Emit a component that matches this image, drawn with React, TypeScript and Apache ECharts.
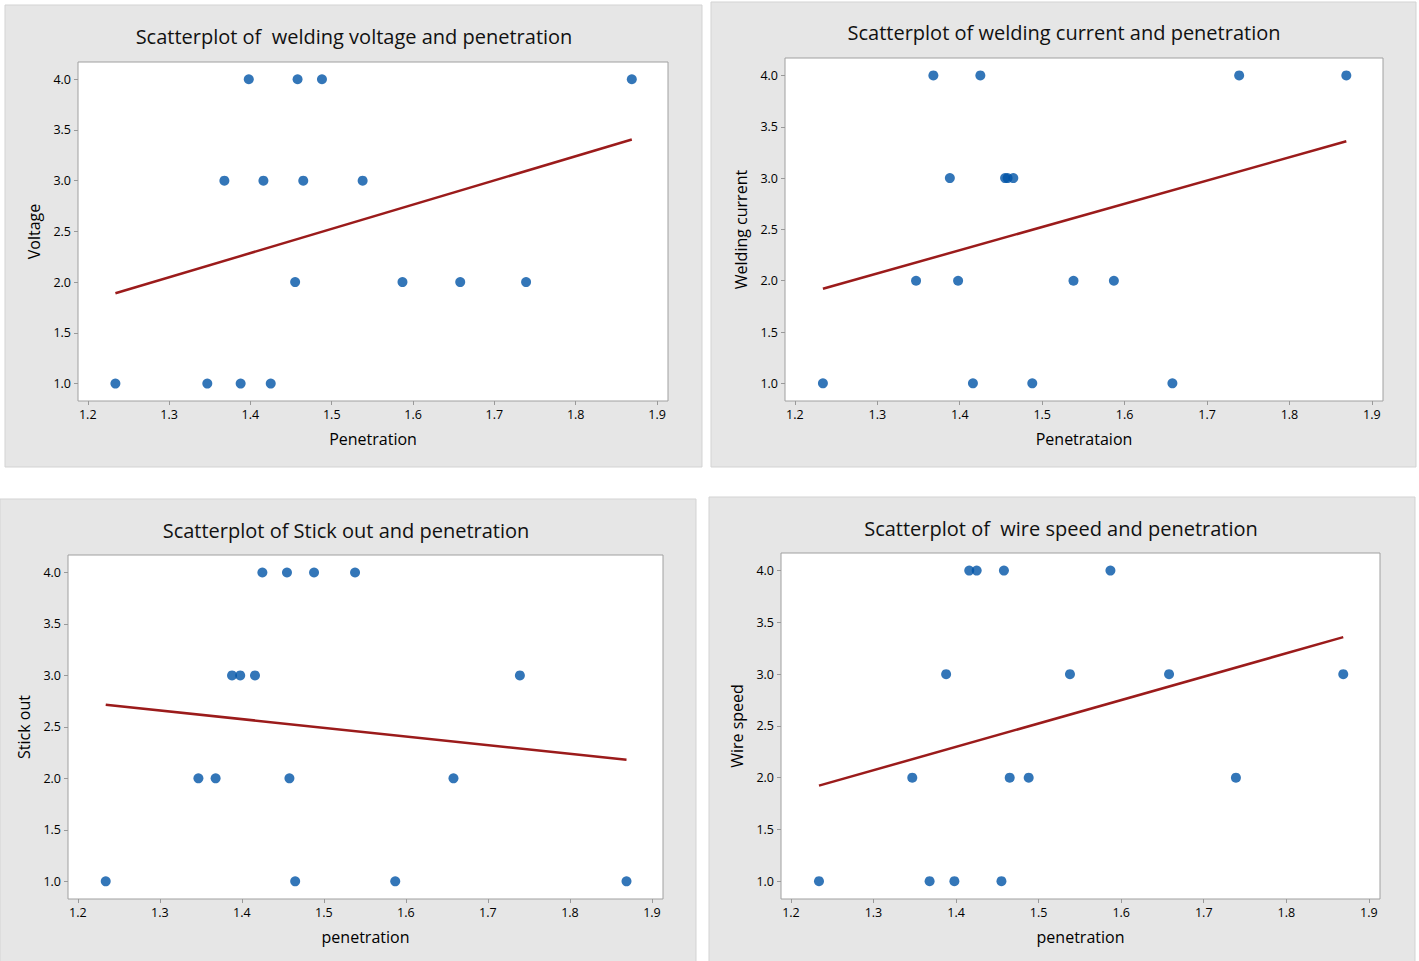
import React, { useEffect, useRef } from "react";
import * as echarts from "echarts";

// Penetration values (shared x for all four panels)
const penetration = [1.234, 1.347, 1.368, 1.388, 1.398, 1.416, 1.425, 1.455, 1.458, 1.465, 1.488, 1.538, 1.587, 1.658, 1.739, 1.869];
// Response values, same order as penetration
const voltage = [1, 1, 3, 1, 4, 3, 1, 2, 4, 3, 4, 3, 2, 2, 2, 4];
const weldingCurrent = [1, 2, 4, 3, 2, 1, 4, 3, 3, 3, 1, 2, 2, 1, 4, 4];
const stickOut = [1, 2, 2, 3, 3, 3, 4, 4, 2, 1, 4, 4, 1, 2, 3, 1];
const wireSpeed = [1, 2, 1, 3, 1, 4, 4, 1, 4, 2, 2, 3, 4, 3, 2, 3];

const xTicks = [1.2, 1.3, 1.4, 1.5, 1.6, 1.7, 1.8, 1.9];
const yTicks = [1.0, 1.5, 2.0, 2.5, 3.0, 3.5, 4.0];

const titles = [
  "Scatterplot of  welding voltage and penetration",
  "Scatterplot of welding current and penetration",
  "Scatterplot of Stick out and penetration",
  "Scatterplot of  wire speed and penetration",
];
const yNames = ["Voltage", "Welding current", "Stick out", "Wire speed"];
const xNames = ["Penetration", "Penetrataion", "penetration", "penetration"];
const responses = [voltage, weldingCurrent, stickOut, wireSpeed];

// layout (pixels)
const panels = [
  { x: 5, y: 5, w: 697, h: 462, grid: { left: 78, top: 62, width: 590, height: 339 }, titleX: 354, titleY: 36 },
  { x: 711, y: 2, w: 705, h: 465, grid: { left: 785, top: 58, width: 598, height: 343 }, titleX: 1064, titleY: 32 },
  { x: 0, y: 499, w: 696, h: 470, grid: { left: 68, top: 555, width: 595, height: 344 }, titleX: 346, titleY: 530 },
  { x: 709, y: 497, w: 706, h: 470, grid: { left: 781, top: 553, width: 599, height: 346 }, titleX: 1061, titleY: 528 },
];

const FONT = "'Open Sans', 'Noto Sans', sans-serif";

function fit(xs: number[], ys: number[]) {
  const n = xs.length;
  const mx = xs.reduce((a, b) => a + b, 0) / n;
  const my = ys.reduce((a, b) => a + b, 0) / n;
  let sxy = 0, sxx = 0;
  for (let i = 0; i < n; i++) {
    sxy += (xs[i] - mx) * (ys[i] - my);
    sxx += (xs[i] - mx) * (xs[i] - mx);
  }
  const b = sxy / sxx;
  const a = my - b * mx;
  const x0 = Math.min(...xs);
  const x1 = Math.max(...xs);
  return [[x0, a + b * x0], [x1, a + b * x1]];
}

export default function App() {
  const ref = useRef<HTMLDivElement>(null);
  useEffect(() => {
    if (!ref.current) return;
    const chart = echarts.init(ref.current, undefined, { renderer: "svg" });
    const graphic: any[] = [];
    panels.forEach((p, i) => {
      graphic.push({
        type: "rect",
        shape: { x: p.x, y: p.y, width: p.w, height: p.h },
        style: { fill: "#e6e6e6", stroke: "#d3d3d3", lineWidth: 1 },
        z: -10,
      });
      graphic.push({
        type: "text",
        x: p.titleX,
        y: p.titleY,
        style: {
          text: titles[i],
          fill: "#111",
          font: `20px ${FONT}`,
          textAlign: "center",
          textVerticalAlign: "middle",
        },
      });
    });
    const grid = panels.map((p) => ({
      ...p.grid,
      show: true,
      backgroundColor: "#ffffff",
      borderColor: "#a0a0a0",
      borderWidth: 1,
      containLabel: false,
    }));
    const xAxis = panels.map((_, i) => ({
      type: "value",
      gridIndex: i,
      min: 1.188,
      max: 1.9135,
      name: xNames[i],
      nameLocation: "middle",
      nameGap: 30,
      nameTextStyle: { fontSize: 16, color: "#000", fontFamily: FONT },
      axisLine: { show: false },
      splitLine: { show: false },
      axisTick: { show: true, customValues: xTicks, length: 4, lineStyle: { color: "#999" } },
      axisLabel: {
        customValues: xTicks,
        formatter: (v: number) => v.toFixed(1),
        fontSize: 12.5,
        color: "#000",
        fontFamily: FONT,
        margin: 7,
      },
    }));
    const yAxis = panels.map((_, i) => ({
      type: "value",
      gridIndex: i,
      min: 0.828,
      max: 4.17,
      name: yNames[i],
      nameLocation: "middle",
      nameGap: 36,
      nameTextStyle: { fontSize: 16, color: "#000", fontFamily: FONT },
      axisLine: { show: false },
      splitLine: { show: false },
      axisTick: { show: true, customValues: yTicks, length: 4, lineStyle: { color: "#999" } },
      axisLabel: {
        customValues: yTicks,
        formatter: (v: number) => v.toFixed(1),
        fontSize: 12.5,
        color: "#000",
        fontFamily: FONT,
        margin: 7,
      },
    }));
    const series: any[] = [];
    responses.forEach((ys, i) => {
      series.push({
        type: "scatter",
        xAxisIndex: i,
        yAxisIndex: i,
        data: penetration.map((x, k) => [x, ys[k]]),
        symbol: "circle",
        symbolSize: 10,
        itemStyle: { color: "#0054a6" },
        z: 3,
      });
      series.push({
        type: "line",
        xAxisIndex: i,
        yAxisIndex: i,
        data: fit(penetration, ys),
        symbol: "none",
        lineStyle: { color: "#9b1b1b", width: 2.5 },
        z: 2,
      });
    });
    chart.setOption({
      animation: false,
      backgroundColor: "#ffffff",
      graphic,
      grid,
      xAxis,
      yAxis,
      series,
    });
    return () => chart.dispose();
  }, []);
  return <div ref={ref} style={{ position: "absolute", left: 0, top: 0, width: 1419, height: 961 }} />;
}
